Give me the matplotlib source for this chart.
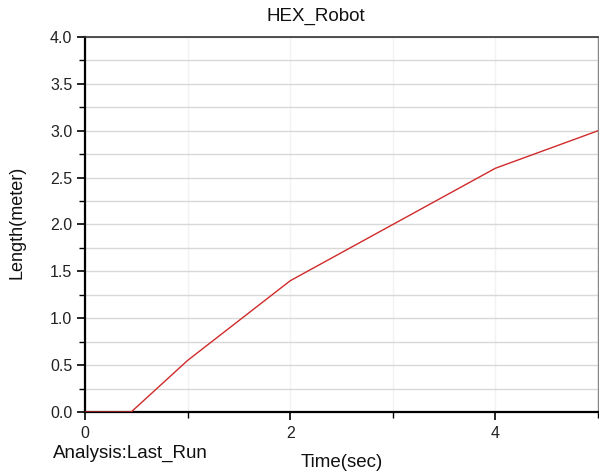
import matplotlib
matplotlib.use("Agg")
import matplotlib.pyplot as plt
from matplotlib.ticker import MultipleLocator, FormatStrFormatter

plt.rcParams['font.family'] = ['Liberation Sans', 'DejaVu Sans']

time_sec = [0.0, 0.45, 1.0, 2.0, 3.0, 4.0, 5.0]
length_m = [0.0, 0.0, 0.55, 1.40, 2.0, 2.60, 3.0]
x_major = [0, 2, 4]
title = "HEX_Robot"

fig = plt.figure(figsize=(5.99, 4.73), dpi=100)
ax = fig.add_axes([85/599, 1-412/473, (598-85)/599, (412-37)/473])

ax.plot(time_sec, length_m, color='#d02a2a', lw=1.0, zorder=3)

ax.set_xlim(0, 5)
ax.set_ylim(0, 4)
ax.set_xticks(x_major)
ax.xaxis.set_minor_locator(MultipleLocator(1))
ax.yaxis.set_major_locator(MultipleLocator(0.5))
ax.yaxis.set_minor_locator(MultipleLocator(0.25))
ax.yaxis.set_major_formatter(FormatStrFormatter('%.1f'))

ax.grid(axis='y', which='both', color='#d8d8d8', lw=1.0, zorder=0)
ax.grid(axis='x', which='both', color='#f2f2f2', lw=1.0, zorder=0)

ax.tick_params(axis='both', which='major', direction='out', length=6, width=1.2,
               labelsize=11.5, colors='black')
ax.tick_params(axis='y', which='major', pad=3)
ax.tick_params(axis='x', which='major', pad=4)
ax.tick_params(axis='both', which='minor', direction='out', length=4, width=1.0)
ax.tick_params(axis='x', labelcolor='#222222')
ax.tick_params(axis='y', labelcolor='#222222')

ax.spines['left'].set_linewidth(1.6)
ax.spines['bottom'].set_linewidth(1.6)
ax.spines['top'].set_linewidth(1.2)
ax.spines['top'].set_color('#333333')
ax.spines['right'].set_linewidth(1.0)
ax.spines['right'].set_color('#888888')

fig.text(316/599, 1-16/473, title, ha='center', va='center', fontsize=13.5, color='#111111')
fig.text(17/599, 1-222/473, 'Length(meter)', rotation=90, ha='center', va='center',
         fontsize=13, color='#111111')
fig.text(342/599, 1-462/473, 'Time(sec)', ha='center', va='center', fontsize=13.5, color='#111111')
fig.text(53/599, 1-453/473, 'Analysis:Last_Run', ha='left', va='center', fontsize=13.5, color='#111111')

fig.savefig('out.png', dpi=100)
